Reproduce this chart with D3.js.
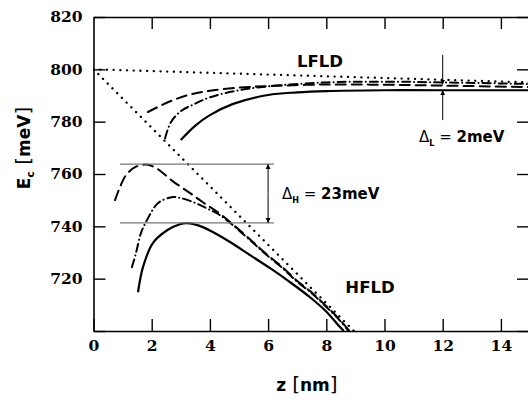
<!DOCTYPE html>
<html>
<head>
<meta charset="utf-8">
<script src="https://cdn.jsdelivr.net/npm/d3@7/dist/d3.min.js"></script>
<style>
body { margin: 0; background: #fff; }
.axis .tick line { stroke: #000; stroke-width: 1.4; }
.axis .domain { stroke: #000; stroke-width: 1.6; }
.axis text { font-family: "DejaVu Serif", serif; font-weight: bold; font-size: 15.5px; fill: #000; }
.lbl { font-family: "DejaVu Sans", sans-serif; font-weight: bold; fill: #000; }
</style>
</head>
<body>
<div id="chart"></div>
<script>
var xTicks = [0, 2, 4, 6, 8, 10, 12, 14];
var yTicks = [700, 720, 740, 760, 780, 800, 820];

// low field (LFLD) curves, [z nm, Ec meV]
var lfldDotted = [[0, 800], [15, 795]];
var lfldDashed = [[1.87, 783.7], [2.66, 787.9], [3.32, 790.4], [4, 791.8], [5, 793], [6, 793.6], [8, 794.2], [10, 794.1], [12, 793.8], [15, 793.2]];
var lfldDashDot = [[2.46, 773.7], [2.66, 779.8], [3.0, 784], [3.42, 786.5], [4, 789.3], [5, 792], [6, 793.5], [8, 795], [10, 795.3], [12, 795], [15, 794.4]];
var lfldSolid = [[3.0, 773], [3.5, 778.5], [4, 782.5], [4.8, 786.8], [6, 790.2], [7, 791.2], [8, 791.7], [10, 792], [12, 792], [15, 792]];

// high field (HFLD) curves
var hfldDotted = [[0, 800], [8.95, 700]];
var hfldDashed = [[0.74, 750], [0.91, 755], [1.12, 759.6], [1.43, 762.6], [1.8, 763.6], [2.15, 762.3], [2.73, 757.2], [3.32, 752.7], [3.76, 749.2], [4.38, 744.5], [5.45, 734.3], [5.93, 729.5], [6.48, 724.5], [6.96, 719.5], [7.51, 714.6], [7.99, 709.6], [8.44, 704.6], [8.8, 700]];
var hfldDashDot = [[1.32, 724.4], [1.46, 729.8], [1.63, 737.4], [1.8, 741.6], [2.22, 748.9], [2.73, 751.2], [3.0, 750.8], [3.42, 749.3], [3.87, 747], [4.38, 744], [5.45, 734], [5.93, 729.2], [6.48, 724.2], [6.96, 719.2], [7.51, 714.3], [7.99, 709.3], [8.44, 704.3], [8.76, 700]];
var hfldSolid = [[1.53, 714.8], [1.7, 724.4], [2.04, 733.6], [2.53, 738.5], [2.97, 740.8], [3.2, 741.2], [3.76, 739.7], [4.1, 737.8], [4.69, 734], [5.38, 729], [6.07, 724], [6.75, 718.7], [7.44, 712.9], [8.02, 707.2], [8.47, 701.5], [8.6, 700]];

// annotations
var deltaH = [741.3, 763.8];   // horizontal guide lines
var deltaHSpan = [0.91, 6.2];
var deltaHz = 6.0;
var deltaL = [792, 794.2];
var deltaLz = 12;

var width = 528, height = 400;
var margin = { top: 17, left: 93.5, bottom: 69, right: -2 };

var svg = d3.select("#chart").append("svg")
  .attr("width", width)
  .attr("height", height);

var x = d3.scaleLinear().domain([0, 15]).range([margin.left, width - margin.right]);
var y = d3.scaleLinear().domain([700, 820]).range([height - margin.bottom, margin.top]);

svg.append("defs").append("clipPath").attr("id", "plot")
  .append("rect")
  .attr("x", x(0)).attr("y", y(820))
  .attr("width", x(15) - x(0)).attr("height", y(700) - y(820));

var defs = svg.select("defs");
defs.append("marker").attr("id", "arr")
  .attr("viewBox", "0 0 10 10").attr("refX", 10).attr("refY", 5)
  .attr("markerWidth", 5).attr("markerHeight", 6).attr("orient", "auto")
  .attr("markerUnits", "userSpaceOnUse")
  .append("path").attr("d", "M0,0L10,5L0,10Z").attr("fill", "#000");

/* axes, ticks pointing inward */
svg.append("g").attr("class", "axis")
  .attr("transform", "translate(0," + y(700) + ")")
  .call(d3.axisBottom(x).tickValues(xTicks).tickSize(-12).tickSizeOuter(0).tickPadding(9));

svg.append("g").attr("class", "axis")
  .attr("transform", "translate(" + x(0) + ",0)")
  .call(d3.axisLeft(y).tickValues(yTicks).tickSize(-12).tickSizeOuter(0).tickPadding(11)
    .tickFormat(function(d) { return d === 700 ? "" : d; }));

svg.append("g").attr("class", "axis")
  .attr("transform", "translate(0," + y(820) + ")")
  .call(d3.axisTop(x).tickValues(xTicks.slice(1)).tickSize(-12).tickSizeOuter(0).tickFormat(""));

svg.append("g").attr("class", "axis")
  .attr("transform", "translate(" + x(15) + ",0)")
  .call(d3.axisRight(y).tickValues(yTicks).tickSize(-13).tickSizeOuter(0).tickFormat(""));

/* curves */
var line = d3.line()
  .x(function(d) { return x(d[0]); })
  .y(function(d) { return y(d[1]); })
  .curve(d3.curveCatmullRom.alpha(0.5));

var curves = [
  { data: lfldDotted, dash: "0.1 6.6", w: 2.3 },
  { data: hfldDotted, dash: "0.1 6.6", w: 2.3 },
  { data: lfldDashed, dash: "10 6", w: 2 },
  { data: hfldDashed, dash: "10 6", w: 2 },
  { data: lfldDashDot, dash: "8 4 0.1 4", w: 2 },
  { data: hfldDashDot, dash: "8 4 0.1 4", w: 2 },
  { data: lfldSolid, dash: null, w: 2.2 },
  { data: hfldSolid, dash: null, w: 2.2 }
];

var g = svg.append("g").attr("clip-path", "url(#plot)");
g.selectAll(".curve")
  .data(curves)
  .enter().append("path")
  .attr("class", "curve")
  .attr("d", function(d) { return line(d.data); })
  .attr("fill", "none")
  .attr("stroke", "#000")
  .attr("stroke-width", function(d) { return d.w; })
  .attr("stroke-linecap", function(d) { return d.dash ? "round" : "butt"; })
  .attr("stroke-dasharray", function(d) { return d.dash; });

/* delta H markers */
g.selectAll(".hguide")
  .data(deltaH)
  .enter().append("line")
  .attr("x1", x(deltaHSpan[0])).attr("x2", x(deltaHSpan[1]))
  .attr("y1", function(d) { return y(d); }).attr("y2", function(d) { return y(d); })
  .attr("stroke", "#777").attr("stroke-width", 1.2);

var midH = (deltaH[0] + deltaH[1]) / 2;
[deltaH[0], deltaH[1]].forEach(function(v) {
  g.append("line")
    .attr("x1", x(deltaHz)).attr("x2", x(deltaHz))
    .attr("y1", y(midH)).attr("y2", y(v))
    .attr("stroke", "#000").attr("stroke-width", 1)
    .attr("marker-end", "url(#arr)");
});

/* delta L markers */
g.append("line")
  .attr("x1", x(deltaLz)).attr("x2", x(deltaLz))
  .attr("y1", y(805.5)).attr("y2", y(deltaL[1]))
  .attr("stroke", "#000").attr("stroke-width", 1)
  .attr("marker-end", "url(#arr)");
g.append("line")
  .attr("x1", x(deltaLz)).attr("x2", x(deltaLz))
  .attr("y1", y(780.6)).attr("y2", y(deltaL[0]))
  .attr("stroke", "#000").attr("stroke-width", 1)
  .attr("marker-end", "url(#arr)");

/* labels */
svg.append("text").attr("class", "lbl")
  .attr("x", 320).attr("y", 67).attr("text-anchor", "middle")
  .style("font-size", "16.5px").text("LFLD");

svg.append("text").attr("class", "lbl")
  .attr("x", 370).attr("y", 293).attr("text-anchor", "middle")
  .style("font-size", "16.5px").text("HFLD");

function deltaLabel(px, py, sub, val) {
  var t = svg.append("text").attr("class", "lbl")
    .attr("x", px).attr("y", py).style("font-size", "15px");
  t.append("tspan").style("font-weight", "normal").text("\u0394");
  t.append("tspan").attr("dy", 4).style("font-size", "8px").text(sub);
  t.append("tspan").attr("dy", -4).style("font-weight", "normal").text(" = ");
  t.append("tspan").text(val);
}
deltaLabel(419, 142, "L", "2meV");
deltaLabel(282, 199, "H", "23meV");

var yl = svg.append("text").attr("class", "lbl")
  .attr("transform", "translate(30,148) rotate(-90)")
  .attr("text-anchor", "middle").style("font-size", "17px");
yl.append("tspan").text("E");
yl.append("tspan").attr("dy", 4).style("font-size", "11px").text("c");
yl.append("tspan").attr("dy", -4).style("font-weight", "normal").style("font-size", "20px").text(" [");
yl.append("tspan").text("meV");
yl.append("tspan").style("font-weight", "normal").style("font-size", "20px").text("]");

var xl = svg.append("text").attr("class", "lbl")
  .attr("x", 307).attr("y", 391).attr("text-anchor", "middle").style("font-size", "17px");
xl.append("tspan").text("z ");
xl.append("tspan").style("font-weight", "normal").style("font-size", "20px").text("[");
xl.append("tspan").text("nm");
xl.append("tspan").style("font-weight", "normal").style("font-size", "20px").text("]");
</script>
</body>
</html>
